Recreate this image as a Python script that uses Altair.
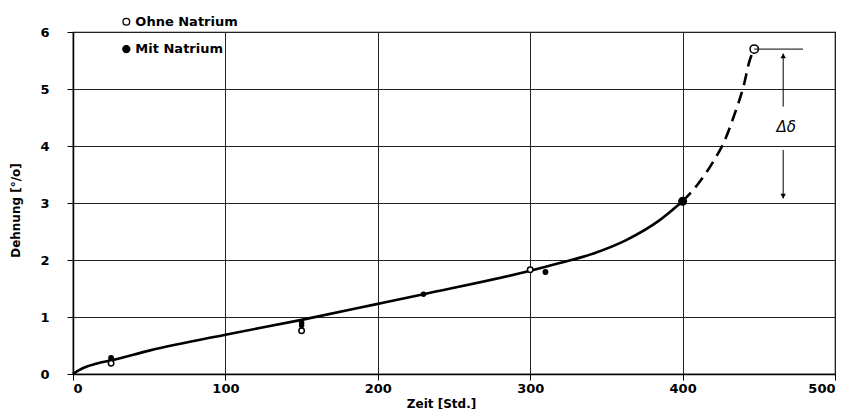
import altair as alt
import pandas as pd

# solid part of the curve
curve_x = [0, 4, 10, 18, 25, 50, 100, 150, 200, 230, 300, 320, 342, 363, 385, 400]
curve_y = [0, 0.07, 0.14, 0.2, 0.24, 0.41, 0.69, 0.95, 1.23, 1.40, 1.81, 1.95, 2.12, 2.35, 2.70, 3.03]
# dashed extrapolation
dash_x = [400, 410, 420, 428, 434, 440, 444, 447]
dash_y = [3.03, 3.33, 3.72, 4.12, 4.55, 5.05, 5.5, 5.7]

# measured points
ohne_x = [25, 150, 300, 447]
ohne_y = [0.19, 0.76, 1.83, 5.7]
ohne_s = [30, 30, 30, 70]
mit_x = [25, 150, 150, 230, 310, 400]
mit_y = [0.28, 0.85, 0.9, 1.40, 1.79, 3.03]
mit_s = [35, 30, 30, 30, 35, 80]

x_ticks = [0, 100, 200, 300, 400, 500]
y_ticks = [0, 1, 2, 3, 4, 5, 6]

FONT = "DejaVu Sans"

xs = alt.Scale(domain=[0, 500], nice=False)
ys = alt.Scale(domain=[0, 6], nice=False)

curve = pd.DataFrame({"x": curve_x, "y": curve_y})
dash = pd.DataFrame({"x": dash_x, "y": dash_y})
ohne = pd.DataFrame({"x": ohne_x, "y": ohne_y, "s": ohne_s})
mit = pd.DataFrame({"x": mit_x, "y": mit_y, "s": mit_s})

X = alt.X("x:Q", scale=xs, axis=alt.Axis(
    values=x_ticks, format="d", title="Zeit [Std.]", grid=True, gridColor="#222", gridOpacity=1, gridWidth=1,
    domainColor="#000", domainWidth=1.5, tickColor="#000", tickSize=6, labelPadding=2,
    labelFont=FONT, labelFontSize=13, labelFontWeight="bold", labelColor="#000",
    titleFont=FONT, titleFontSize=12, titleFontWeight="bold", titleColor="#000",
    titleX=368, titleY=29, titleAnchor="middle", titleBaseline="middle"))
Y = alt.Y("y:Q", scale=ys, axis=alt.Axis(
    values=y_ticks, format="d", title="Dehnung [°/o]", grid=True, gridColor="#222", gridOpacity=1, gridWidth=1,
    domainColor="#000", domainWidth=1.5, tickColor="#000", tickSize=6, labelPadding=18,
    labelFont=FONT, labelFontSize=13, labelFontWeight="bold", labelColor="#000",
    titleFont=FONT, titleFontSize=12, titleFontWeight="bold", titleColor="#000",
    titleX=-58, titleY=178, titleAnchor="middle", titleBaseline="middle"))

base_line = alt.Chart(curve).mark_line(color="#000", strokeWidth=2.6, interpolate="monotone").encode(x=X, y=Y)
dash_line = alt.Chart(dash).mark_line(color="#000", strokeWidth=2.6, strokeDash=[12, 7],
                                      interpolate="monotone").encode(x="x:Q", y="y:Q")

ohne_pts = alt.Chart(ohne).mark_point(shape="circle", filled=True, fill="white", stroke="#000",
                                      strokeWidth=1.5, opacity=1).encode(
    x="x:Q", y="y:Q", size=alt.Size("s:Q", scale=None, legend=None))
mit_pts = alt.Chart(mit).mark_point(shape="circle", filled=True, color="#000", opacity=1).encode(
    x="x:Q", y="y:Q", size=alt.Size("s:Q", scale=None, legend=None))

# delta annotation
ann_h = pd.DataFrame({"x": [447], "x2": [479], "y": [5.7]})
h_rule = alt.Chart(ann_h).mark_rule(color="#000", strokeWidth=1).encode(x="x:Q", x2="x2:Q", y="y:Q")
ann_v = pd.DataFrame({"x": [466, 466], "y": [5.62, 3.08], "y2": [4.69, 3.93]})
v_rule = alt.Chart(ann_v).mark_rule(color="#000", strokeWidth=1).encode(x="x:Q", y="y:Q", y2="y2:Q")
arr = pd.DataFrame({"x": [466, 466], "y": [5.58, 3.12], "shape": ["triangle-up", "triangle-down"]})
arrows = alt.Chart(arr).mark_point(filled=True, color="#000", size=30, opacity=1).encode(
    x="x:Q", y="y:Q", shape=alt.Shape("shape:N", scale=None, legend=None))
delta_lbl = alt.Chart(pd.DataFrame({"x": [468], "y": [4.33], "t": ["Δδ"]})).mark_text(
    font=FONT, fontSize=15, fontStyle="italic", color="#000").encode(x="x:Q", y="y:Q", text="t:N")

# legend
leg = pd.DataFrame({"x": [35, 35], "y": [6.18, 5.7], "t": ["Ohne Natrium", "Mit Natrium"],
                    "f": ["white", "#000"], "s": [45, 50]})
leg_pts = alt.Chart(leg).mark_point(shape="circle", filled=True, stroke="#000", strokeWidth=1.3, opacity=1).encode(
    x="x:Q", y="y:Q", fill=alt.Fill("f:N", scale=None, legend=None), size=alt.Size("s:Q", scale=None, legend=None))
leg_txt = alt.Chart(leg).mark_text(align="left", dx=9, font=FONT, fontSize=13, fontWeight="bold",
                                   color="#000").encode(x="x:Q", y="y:Q", text="t:N")

chart = alt.layer(base_line, dash_line, ohne_pts, mit_pts, h_rule, v_rule, arrows, delta_lbl,
                  leg_pts, leg_txt).properties(
    width=762, height=342,
    autosize=alt.AutoSizeParams(type="none"),
    padding={"left": 65, "top": 24, "right": 6, "bottom": 35},
    background="white",
).configure_view(stroke="#000", strokeWidth=1.2)

chart.save("out.html", embed_options={"renderer": "svg", "actions": False})
